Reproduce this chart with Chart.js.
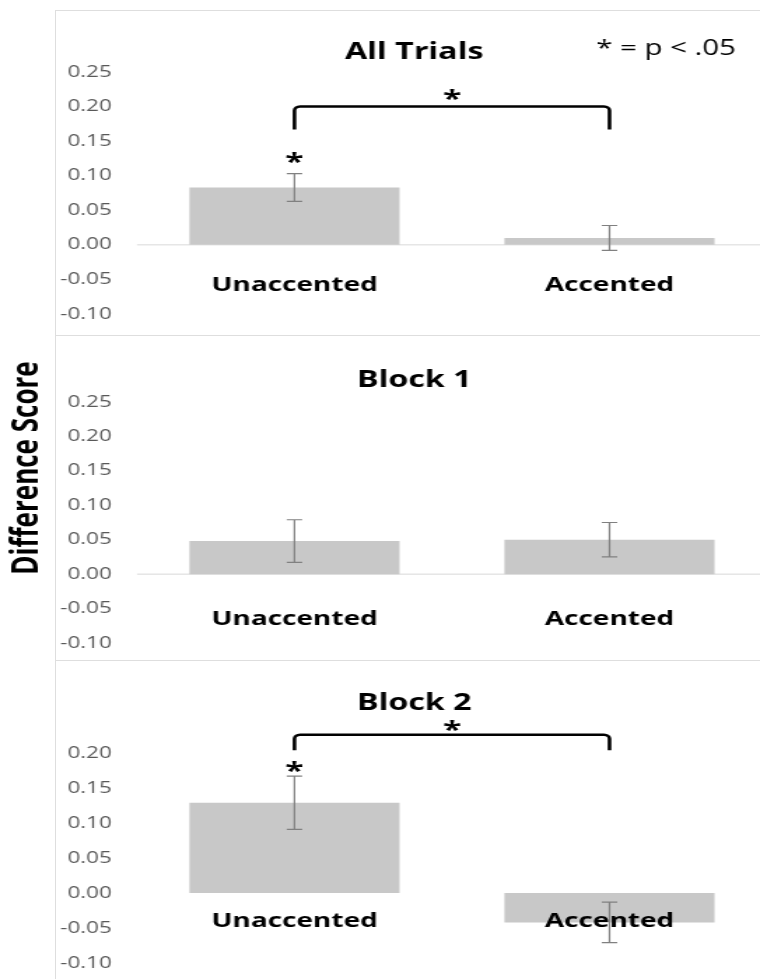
<!DOCTYPE html>
<html>
<head>
<meta charset="utf-8">
<script src="https://cdn.jsdelivr.net/npm/chart.js@4.4.1/dist/chart.umd.min.js"></script>
<style>
  html, body { margin: 0; padding: 0; background: #fff; overflow: hidden; }
  #page { position: relative; width: 760px; height: 979px; overflow: hidden; }
  .rule { position: absolute; background: #dedede; }
  canvas { position: absolute; left: 0; }
</style>
</head>
<body>
<div id="page">
  <div class="rule" style="left:55px;top:10px;width:1px;height:969px"></div>
  <div class="rule" style="left:55px;top:10px;width:705px;height:1px"></div>
  <div class="rule" style="left:55px;top:335px;width:705px;height:1px"></div>
  <div class="rule" style="left:55px;top:660px;width:705px;height:1px"></div>
</div>
<script>
// chart values
const categories = ['Unaccented', 'Accented'];
const panelTitles = ['All Trials', 'Block 1', 'Block 2'];
const allTrialsMeans = [0.083, 0.010];
const allTrialsErrors = [0.020, 0.018];
const block1Means = [0.048, 0.050];
const block1Errors = [0.031, 0.025];
const block2Means = [0.129, -0.042];
const block2Errors = [0.038, 0.029];
const yMin = -0.10, yMax = 0.25, yStep = 0.05;
const yTitle = 'Difference Score';
const sigNote = '* = p < .05';

// the original picture is stretched sideways, so draw narrow and stretch the canvas
const SX = 1.4;
const CSS_W = 767;
const W = Math.round(CSS_W / SX);
const AXIS_W = 137 / SX;

const panels = [
    { title: panelTitles[0], means: allTrialsMeans, errors: allTrialsErrors,
      top: 10, height: 325, pad: { top: 62, bottom: 21 }, titleBase: 49,
      labelAt: -0.067, zeroLine: true, hideTop: false, note: true,
      sig: { barStar: 0.128, bracketTop: 0.200, bracketEnd: 0.167, bracketStar: 0.220 } },
    { title: panelTitles[1], means: block1Means, errors: block1Errors,
      top: 335, height: 325, pad: { top: 67, bottom: 17 }, titleBase: 52,
      labelAt: -0.074, zeroLine: true, hideTop: false, yTitle: true, sig: null },
    { title: panelTitles[2], means: block2Means, errors: block2Errors,
      top: 660, height: 319, pad: { top: 58, bottom: 16 }, titleBase: 50,
      labelAt: -0.049, zeroLine: false, hideTop: true,
      sig: { barStar: 0.183, bracketTop: 0.226, bracketEnd: 0.204, bracketStar: 0.241 } }
];

function drawStar(ctx, x, yCenter) {
    ctx.font = 'bold 24px "Open Sans"';
    ctx.textAlign = 'center';
    ctx.textBaseline = 'alphabetic';
    ctx.fillStyle = '#000';
    ctx.fillText('*', x, yCenter + 0.58 * 24);
}

function tickText(v, hideTop) {
    if (hideTop && Math.abs(v - yMax) < 1e-9) return '';
    if (Math.abs(v) < 1e-9) return '0.00';
    return v.toFixed(2);
}

function makeDecor(panel) {
    return {
        id: 'decor',
        beforeDatasetsDraw(chart) {
            if (!panel.zeroLine) return;
            const { ctx, chartArea } = chart;
            const y0 = chart.scales.y.getPixelForValue(0);
            ctx.save();
            ctx.strokeStyle = '#d9d9d9';
            ctx.lineWidth = 1;
            ctx.beginPath();
            ctx.moveTo(chartArea.left, y0);
            ctx.lineTo(chartArea.right, y0);
            ctx.stroke();
            ctx.restore();
        },
        afterDatasetsDraw(chart) {
            const ctx = chart.ctx;
            const xs = chart.scales.x, ys = chart.scales.y;
            const meta = chart.getDatasetMeta(0);
            ctx.save();

            // error bars
            ctx.strokeStyle = '#808080';
            ctx.lineWidth = 1.2;
            meta.data.forEach((bar, i) => {
                const yt = ys.getPixelForValue(panel.means[i] + panel.errors[i]);
                const yb = ys.getPixelForValue(panel.means[i] - panel.errors[i]);
                ctx.beginPath();
                ctx.moveTo(bar.x, yt); ctx.lineTo(bar.x, yb);
                ctx.moveTo(bar.x - 5.5, yt); ctx.lineTo(bar.x + 5.5, yt);
                ctx.moveTo(bar.x - 5.5, yb); ctx.lineTo(bar.x + 5.5, yb);
                ctx.stroke();
            });

            // category labels near the zero line
            ctx.fillStyle = '#000';
            ctx.font = 'bold 20px "Open Sans"';
            ctx.textAlign = 'center';
            ctx.textBaseline = 'alphabetic';
            categories.forEach((c, i) => {
                ctx.fillText(c, xs.getPixelForValue(i), ys.getPixelForValue(panel.labelAt));
            });

            const x0 = xs.getPixelForValue(0), x1 = xs.getPixelForValue(1);

            // panel title
            ctx.font = 'bold 23px "Open Sans"';
            ctx.fillText(panel.title, (x0 + x1) / 2 - 27, panel.titleBase);

            if (panel.note) {
                ctx.font = '21px "Open Sans"';
                ctx.textAlign = 'left';
                ctx.fillText(sigNote, 426, 45);
            }

            if (panel.yTitle) {
                ctx.save();
                ctx.translate(20, 133);
                ctx.rotate(-Math.PI / 2);
                ctx.font = 'bold 26px "Open Sans"';
                ctx.textAlign = 'center';
                ctx.textBaseline = 'middle';
                ctx.fillText(yTitle, 0, 0);
                ctx.restore();
            }

            if (panel.sig) {
                const s = panel.sig;
                drawStar(ctx, x0, ys.getPixelForValue(s.barStar));
                const yt = ys.getPixelForValue(s.bracketTop);
                const ye = ys.getPixelForValue(s.bracketEnd);
                ctx.strokeStyle = '#000';
                ctx.lineWidth = 2.6;
                ctx.beginPath();
                ctx.moveTo(x0, ye);
                ctx.arcTo(x0, yt, x1, yt, 4);
                ctx.arcTo(x1, yt, x1, ye, 4);
                ctx.lineTo(x1, ye);
                ctx.stroke();
                drawStar(ctx, (x0 + x1) / 2, ys.getPixelForValue(s.bracketStar));
            }
            ctx.restore();
        }
    };
}

const page = document.getElementById('page');
panels.forEach(panel => {
    const canvas = document.createElement('canvas');
    canvas.width = W;
    canvas.height = panel.height;
    canvas.style.width = CSS_W + 'px';
    canvas.style.height = panel.height + 'px';
    canvas.style.top = panel.top + 'px';
    page.appendChild(canvas);

    new Chart(canvas.getContext('2d'), {
        type: 'bar',
        data: {
            labels: categories,
            datasets: [{
                data: panel.means,
                backgroundColor: '#c8c8c8',
                borderWidth: 0,
                barPercentage: 0.667,
                categoryPercentage: 1
            }]
        },
        options: {
            responsive: false,
            animation: false,
            devicePixelRatio: 1,
            layout: { padding: { top: panel.pad.top, bottom: panel.pad.bottom, left: 0, right: 0 } },
            plugins: { legend: { display: false }, tooltip: { enabled: false } },
            scales: {
                x: { display: false },
                y: {
                    min: yMin,
                    max: yMax,
                    grid: { display: false, drawTicks: true, tickLength: 18 },
                    border: { display: false },
                    afterFit(scale) { scale.width = AXIS_W; },
                    ticks: {
                        stepSize: yStep,
                        padding: 0,
                        color: '#595959',
                        font: { family: 'Open Sans', size: 16, lineHeight: 1 },
                        callback: v => tickText(v, panel.hideTop)
                    }
                }
            }
        },
        plugins: [makeDecor(panel)]
    });
});
</script>
</body>
</html>
